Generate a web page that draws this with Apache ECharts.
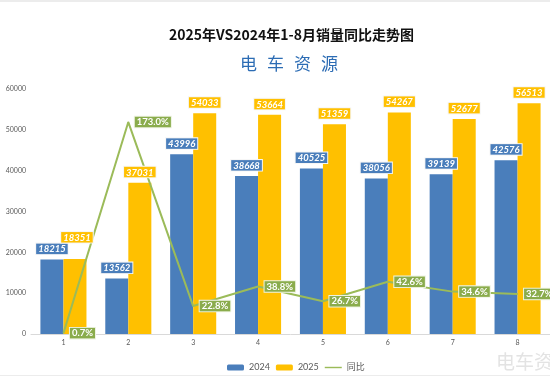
<!DOCTYPE html>
<html><head><meta charset="utf-8">
<script src="https://cdn.jsdelivr.net/npm/echarts@6/dist/echarts.min.js"></script>
<style>html,body{margin:0;padding:0;background:#fff}#c{width:550px;height:378px}</style>
</head><body><div id="c"></div>
<script>
const categories = ['1','2','3','4','5','6','7','8'];
const sales2024 = [18215, 13562, 43996, 38668, 40525, 38056, 39139, 42576];
const sales2025 = [18351, 37031, 54033, 53664, 51359, 54267, 52677, 56513];
const yoy = [0.7, 173.0, 22.8, 38.8, 26.7, 42.6, 34.6, 32.7];
const yTicks = [0, 10000, 20000, 30000, 40000, 50000, 60000];
const logoChars = ['电','车','资','源'];

const FONT = 'Lato, "Noto Sans CJK SC", sans-serif';
const CJK = '"Noto Sans CJK SC", sans-serif';
const chart = echarts.init(document.getElementById('c'), null, {renderer:'canvas'});

// value labels drawn as mark points so they sit above the 同比 line, like the reference
function valueLabels(values, bg, offsets){
  return {
    z:6, symbol:'rect', symbolSize:1, silent:true,
    itemStyle:{color:'rgba(0,0,0,0)'},
    label:{show:true, position:'top', distance:5, color:'#fff', fontSize:9.5, fontStyle:'italic',
      fontWeight:'bold', fontFamily:FONT, backgroundColor:bg, borderColor:'#f6f6f6', borderWidth:1,
      padding:[1,2,0,2], formatter:p=>String(p.value)},
    data: values.map((v,i)=>{
      const d = {coord:[i, v], value:v};
      if (offsets && offsets[i]) d.label = {offset:offsets[i]};
      return d;
    })
  };
}

const graphics = logoChars.map((ch,i)=>({type:'text', left:240+i*27, top:55,
  style:{text:ch, fontSize:17, fill:'#2c6cb4', fontFamily:CJK}}));
graphics.push(
  {type:'text', left:496, top:352, style:{text:'电车资源', fontSize:19, fill:'#e3e3e3', fontFamily:CJK}},
  {type:'rect', shape:{x:0,y:0,width:550,height:2}, style:{fill:'#ececec'}},
  {type:'rect', shape:{x:0,y:375,width:550,height:1}, style:{fill:'#ececec'}}
);

chart.setOption({
  animation:false,
  backgroundColor:'#fff',
  title:{text:'2025年VS2024年1-8月销量同比走势图', left:169, top:28, padding:0,
    textStyle:{fontSize:14, fontWeight:'bold', color:'#111', fontFamily:CJK}},
  graphic:graphics,
  legend:{left:222, top:358, itemWidth:17, itemHeight:6, itemGap:6,
    textStyle:{fontSize:9, color:'#595959', fontFamily:FONT},
    data:['2024','2025',{name:'同比', icon:'path://M0,0 L24,0 L24,2 L0,2 Z'}]},
  grid:{left:31, top:89, width:525.6, height:245},
  xAxis:{type:'category', data:categories,
    axisLine:{lineStyle:{color:'#d9d9d9'}}, axisTick:{show:false},
    axisLabel:{fontSize:7, color:'#595959', margin:5, fontFamily:FONT}},
  yAxis:[
    {type:'value', min:yTicks[0], max:yTicks[yTicks.length-1], interval:10000,
      splitLine:{show:false}, axisLine:{show:false}, axisTick:{show:false},
      axisLabel:{fontSize:7, color:'#595959', margin:5, fontFamily:FONT, formatter:v=>String(v)}},
    {type:'value', min:0, max:200, show:false, splitLine:{show:false}}
  ],
  series:[
    {name:'2024', type:'bar', data:sales2024, barGap:'0%', barCategoryGap:'29%',
      itemStyle:{color:'#4a7ebb'}, markPoint:valueLabels(sales2024, '#4a7ebb')},
    {name:'2025', type:'bar', data:sales2025,
      itemStyle:{color:'#ffc000'}, markPoint:valueLabels(sales2025, '#ffc000', [[2,-11]])},
    {name:'同比', type:'line', yAxisIndex:1, data:yoy, symbol:'circle', symbolSize:1, showSymbol:true,
      lineStyle:{color:'#9bbb59', width:2}, itemStyle:{color:'#9bbb59'},
      label:{show:true, position:'right', distance:6, color:'#fff', fontSize:9.5, fontWeight:'bold',
        fontFamily:FONT, backgroundColor:'#8aac4c', borderColor:'#eef3e2', borderWidth:1, padding:[1,2,0,2],
        formatter:p=>p.value.toFixed(1)+'%'}}
  ]
});
</script></body></html>
